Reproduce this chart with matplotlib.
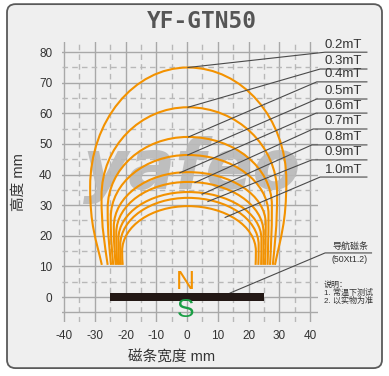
import matplotlib
matplotlib.use("Agg")
import matplotlib.pyplot as plt
from matplotlib.path import Path
from matplotlib.patches import PathPatch, FancyBboxPatch, Rectangle

plt.rcParams['font.family'] = ['Liberation Sans', 'Noto Sans CJK SC', 'DejaVu Sans']
plt.rcParams['axes.unicode_minus'] = False

# field strength labels and the arch shapes
labels = ['0.2mT', '0.3mT', '0.4mT', '0.5mT', '0.6mT', '0.7mT', '0.8mT', '0.9mT', '1.0mT']
peak_h = [75.0, 62.0, 52.3, 46.4, 40.8, 37.6, 34.3, 32.4, 29.7]
peak_x = [0.3, 0.3, 0.3, 0.3, 0.3, 0.3, 0.3, 0.3, 0.3]
left_wide_x = [-31.5, -27.8, -25.8, -24.8, -23.8, -23.0, -22.3, -21.7, -21.1]
left_wide_y = [36, 33, 29, 26, 23, 21, 19, 17, 15]
right_wide_x = [32.3, 29.3, 27.6, 26.5, 25.6, 24.9, 24.2, 23.3, 22.4]
right_wide_y = [38, 34, 30, 27, 24, 21, 19, 17, 15]
left_foot_x = [-27.7, -25.8, -24.7, -24.0, -23.2, -22.7, -22.1, -21.5, -20.9]
right_foot_x = [28.6, 27.9, 27.0, 26.2, 25.4, 24.8, 24.1, 23.2, 22.3]
foot_y = 10.5

# leader lines: point on the curve -> start of the label underline
lead_from_x = [0.3, 0.3, 0.5, 0.2, -2.3, 2.6, 4.9, 6.8, 12.4]
lead_from_y = [75.0, 62.0, 52.3, 46.4, 40.6, 37.4, 33.6, 31.2, 26.0]
lead_to_x = [44.9, 43.3, 42.2, 42.2, 42.0, 41.0, 40.6, 40.6, 43.3]
lead_to_y = [80.0, 74.5, 70.3, 64.7, 60.1, 54.9, 49.7, 44.8, 39.2]
label_end_x = 58.5

x_ticks = [-40, -30, -20, -10, 0, 10, 20, 30, 40]
x_tick_labels = ['-40', '-30', '-20', '-10', '0', '10', '20', '30', '40']
y_ticks = [0, 10, 20, 30, 40, 50, 60, 70, 80]
y_tick_labels = ['0', '10', '20', '30', '40', '50', '60', '70', '80']
grid_x_major = [-40, -30, -20, -10, 0, 10, 20, 30, 40]
grid_x_minor = [-35, -25, -15, -5, 5, 15, 25, 35]
grid_y_major = [-5, 0, 10, 20, 30, 40, 50, 60, 70, 80]
grid_y_minor = [5, 15, 25, 35, 45, 55, 65, 75]

magnet_x = [-25, 25]
magnet_thick = 2.4

orange = '#f39200'
green = '#1a9f45'

fig = plt.figure(figsize=(3.89, 3.76), dpi=100)
fig.patches.append(FancyBboxPatch((0.018, 0.021), 0.964, 0.968,
                                  boxstyle="round,pad=0,rounding_size=0.022",
                                  transform=fig.transFigure, facecolor='#efefef',
                                  edgecolor='#5a5a5a', linewidth=1.3, zorder=-10))

ax = fig.add_axes([0.1594, 0.1436, 0.6581, 0.7447])
ax.set_facecolor('none')
ax.set_xlim(-40.65, 42.6)
ax.set_ylim(-8.17, 83.33)
for s in ax.spines.values():
    s.set_visible(False)

for gx in grid_x_major:
    ax.axvline(gx, color='#a8a8a8', lw=1.0, zorder=1)
for gx in grid_x_minor:
    ax.axvline(gx, color='#b8b8b8', lw=1.0, ls=(0, (4, 3)), zorder=1)
for gy in grid_y_major:
    ax.axhline(gy, color='#a8a8a8', lw=1.0, zorder=1)
for gy in grid_y_minor:
    ax.axhline(gy, color='#b8b8b8', lw=1.0, ls=(0, (4, 3)), zorder=1)

ax.set_xticks(x_ticks)
ax.set_xticklabels(x_tick_labels)
ax.set_yticks(y_ticks)
ax.set_yticklabels(y_tick_labels)
ax.tick_params(length=0, labelsize=8.5, colors='#333333')
ax.tick_params(axis='x', pad=6)
ax.tick_params(axis='y', pad=7)

# watermark
ax.text(1.5, 41.5, 'yafeo', fontsize=50, fontweight='bold', style='italic',
        family='DejaVu Sans', color='#b9b9b9', alpha=0.9,
        ha='center', va='center', zorder=2)

k = 0.5523
for i in range(len(labels)):
    xp, h = peak_x[i], peak_h[i]
    xl, yl = left_wide_x[i], left_wide_y[i]
    xr, yr = right_wide_x[i], right_wide_y[i]
    xlf, xrf = left_foot_x[i], right_foot_x[i]
    verts = [
        (xlf, foot_y),
        (xlf + 0.5 * (xl - xlf), foot_y + 0.33 * (yl - foot_y)),
        (xl, yl - 0.5 * (yl - foot_y)),
        (xl, yl),
        (xl, yl + k * (h - yl)),
        (xp + k * (xl - xp), h),
        (xp, h),
        (xp + k * (xr - xp), h),
        (xr, yr + k * (h - yr)),
        (xr, yr),
        (xr, yr - 0.5 * (yr - foot_y)),
        (xrf + 0.5 * (xr - xrf), foot_y + 0.33 * (yr - foot_y)),
        (xrf, foot_y),
    ]
    codes = [Path.MOVETO] + [Path.CURVE4] * 12
    ax.add_patch(PathPatch(Path(verts, codes), facecolor='none',
                           edgecolor=orange, lw=1.5, zorder=3))

for i in range(len(labels)):
    ax.plot([lead_from_x[i], lead_to_x[i], label_end_x],
            [lead_from_y[i], lead_to_y[i], lead_to_y[i]],
            color='#4a4a4a', lw=0.8, zorder=4, clip_on=False)
    ax.text(50.9, lead_to_y[i] + 0.5, labels[i],
            fontsize=9.5, color='#333333', ha='center', va='bottom', clip_on=False)

# magnet strip
ax.add_patch(Rectangle((magnet_x[0], -magnet_thick / 2), magnet_x[1] - magnet_x[0],
                       magnet_thick, facecolor='#231815', edgecolor='none', zorder=5))
ax.text(-0.6, 4.9, 'N', fontsize=19, color=orange, ha='center', va='center', zorder=5)
ax.text(-0.6, -4.3, 'S', fontsize=19, color=green, ha='center', va='center', zorder=5)

ax.plot([14, 44.9, 60.0], [1.3, 14.4, 14.4], color='#4a4a4a', lw=0.8,
        zorder=4, clip_on=False)
ax.text(53.0, 15.1, '导航磁条', fontsize=6.5, color='#333333', ha='center',
        va='bottom', clip_on=False)
ax.text(53.0, 13.7, '(50Xt1.2)', fontsize=6.3, color='#333333', ha='center',
        va='top', clip_on=False)
ax.text(44.4, 1.3, '说明：\n1. 常温下测试\n2. 以实物为准', fontsize=5.8,
        color='#333333', ha='left', va='center', linespacing=1.05, clip_on=False)

ax.text(-54.6, 37.6, '高度 mm', fontsize=10.5, color='#333333', rotation=90,
        ha='center', va='center', clip_on=False)
ax.text(-4.9, -19.6, '磁条宽度 mm', fontsize=10.5, color='#333333',
        ha='center', va='center', clip_on=False)

fig.text(0.519, 0.942, 'YF-GTN50', fontsize=16.4, fontweight='bold',
         family='DejaVu Sans Mono', color='#555555', ha='center', va='center')

fig.savefig('out.png', dpi=100)
